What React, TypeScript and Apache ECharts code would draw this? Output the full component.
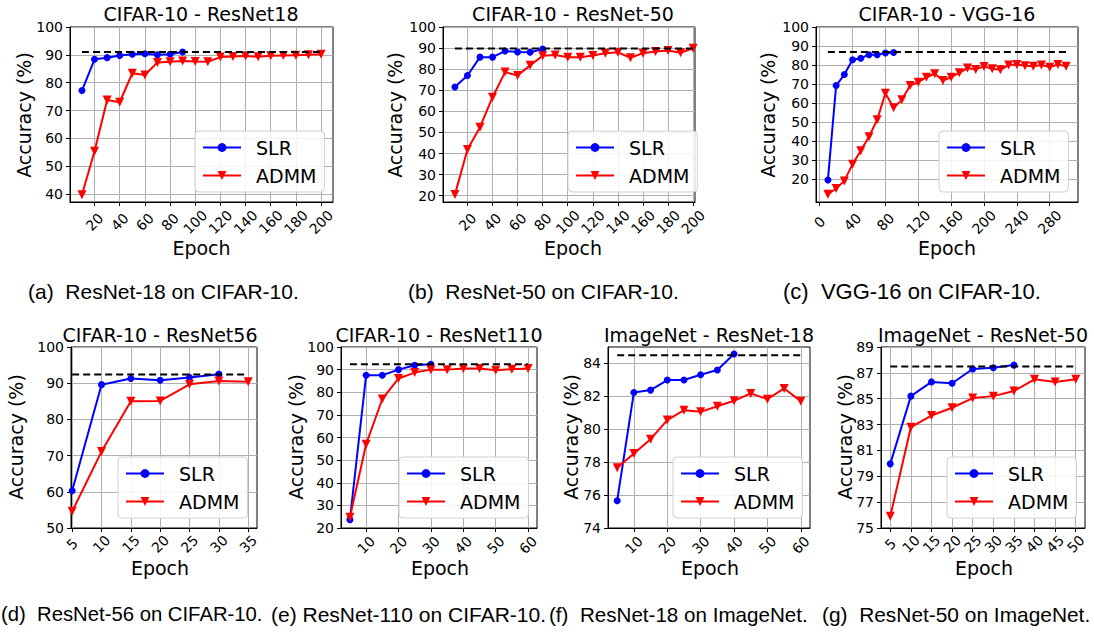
import React, { useEffect, useRef } from "react";
import * as echarts from "echarts";

// ---------------- Data ----------------
// (a) CIFAR-10 - ResNet18
const epochsA_SLR = [10, 20, 30, 40, 50, 60, 70, 80, 90];
const slrA = [77.2, 88.4, 89.0, 89.8, 90.2, 90.4, 90.0, 90.2, 91.0];
const epochsA_ADMM = [10, 20, 30, 40, 50, 60, 70, 80, 90, 100, 110, 120, 130, 140, 150, 160, 170, 180, 190, 200];
const admmA = [39.8, 55.4, 73.8, 73.0, 83.4, 82.8, 87.3, 87.5, 87.8, 87.6, 87.5, 89.2, 89.4, 89.6, 89.3, 89.7, 89.8, 89.9, 90.0, 90.2];
const baseA = 91.0;

// (b) CIFAR-10 - ResNet-50
const epochsB_SLR = [10, 20, 30, 40, 50, 60, 70, 80];
const slrB = [71.5, 77.0, 85.7, 85.7, 88.6, 88.1, 88.0, 89.5];
const epochsB_ADMM = [10, 20, 30, 40, 50, 60, 70, 80, 90, 100, 110, 120, 130, 140, 150, 160, 170, 180, 190, 200];
const admmB = [20.5, 41.9, 52.5, 66.7, 78.6, 77.0, 81.8, 86.4, 86.7, 85.7, 85.7, 86.5, 87.6, 88.0, 85.4, 87.6, 88.4, 88.9, 87.8, 89.9];
const baseB = 89.8;

// (c) CIFAR-10 - VGG-16
const epochsC_SLR = [10, 20, 30, 40, 50, 60, 70, 80, 90];
const slrC = [19.6, 69.2, 75.0, 82.8, 83.6, 85.4, 85.4, 86.3, 86.6];
const epochsC_ADMM = [10, 20, 30, 40, 50, 60, 70, 80, 90, 100, 110, 120, 130, 140, 150, 160, 170, 180, 190, 200, 210, 220, 230, 240, 250, 260, 270, 280, 290, 300];
const admmC = [12.1, 15.1, 19.1, 27.9, 34.9, 42.3, 51.3, 65.2, 57.5, 61.7, 69.2, 71.0, 73.6, 75.4, 71.9, 73.6, 75.9, 78.4, 77.7, 79.3, 78.0, 77.5, 80.0, 80.3, 79.6, 79.4, 80.0, 78.9, 80.3, 79.4];
const baseC = 86.8;

// (d) CIFAR-10 - ResNet56
const epochsD_SLR = [5, 10, 15, 20, 25, 30];
const slrD = [60.3, 89.6, 91.3, 90.8, 91.6, 92.5];
const epochsD_ADMM = [5, 10, 15, 20, 25, 30, 35];
const admmD = [54.6, 71.1, 85.0, 85.1, 89.7, 90.6, 90.4];
const baseD = 92.4;

// (e) CIFAR-10 - ResNet110
const epochsE_SLR = [5, 10, 15, 20, 25, 30];
const slrE = [23.7, 87.5, 87.5, 90.0, 91.9, 92.4];
const epochsE_ADMM = [5, 10, 15, 20, 25, 30, 35, 40, 45, 50, 55, 60];
const admmE = [24.7, 57.0, 77.0, 86.1, 88.7, 90.0, 90.0, 90.5, 90.5, 89.7, 90.2, 90.5];
const baseE = 92.4;

// (f) ImageNet - ResNet-18
const epochsF_SLR = [5, 10, 15, 20, 25, 30, 35, 40];
const slrF = [75.66, 82.24, 82.38, 82.99, 82.99, 83.31, 83.6, 84.57];
const epochsF_ADMM = [5, 10, 15, 20, 25, 30, 35, 40, 45, 50, 55, 60];
const admmF = [77.66, 78.53, 79.4, 80.56, 81.16, 81.06, 81.4, 81.73, 82.18, 81.83, 82.48, 81.71];
const baseF = 84.5;

// (g) ImageNet - ResNet-50
const epochsG_SLR = [5, 10, 15, 20, 25, 30, 35];
const slrG = [79.96, 85.2, 86.3, 86.2, 87.3, 87.4, 87.6];
const epochsG_ADMM = [5, 10, 15, 20, 25, 30, 35, 40, 45, 50];
const admmG = [75.9, 82.8, 83.7, 84.3, 85.05, 85.2, 85.6, 86.5, 86.3, 86.5];
const baseG = 87.5;

// Tick labels
const xTicksAB = [20, 40, 60, 80, 100, 120, 140, 160, 180, 200];
const xTicksC = [0, 40, 80, 120, 160, 200, 240, 280];
const xTicksD = [5, 10, 15, 20, 25, 30, 35];
const xTicksEF = [10, 20, 30, 40, 50, 60];
const xTicksG = [5, 10, 15, 20, 25, 30, 35, 40, 45, 50];
const yTicksA = [40, 50, 60, 70, 80, 90, 100];
const yTicks20 = [20, 30, 40, 50, 60, 70, 80, 90, 100];
const yTicksD = [50, 60, 70, 80, 90, 100];
const yTicksF = [74, 76, 78, 80, 82, 84];
const yTicksG = [75, 77, 79, 81, 83, 85, 87, 89];

const titles = [
  "CIFAR-10 - ResNet18",
  "CIFAR-10 - ResNet-50",
  "CIFAR-10 - VGG-16",
  "CIFAR-10 - ResNet56",
  "CIFAR-10 - ResNet110",
  "ImageNet - ResNet-18",
  "ImageNet - ResNet-50",
];
const captions = [
  "(a)  ResNet-18 on CIFAR-10.",
  "(b)  ResNet-50 on CIFAR-10.",
  "(c)  VGG-16 on CIFAR-10.",
  "(d)  ResNet-56 on CIFAR-10.",
  "(e) ResNet-110 on CIFAR-10.",
  "(f)  ResNet-18 on ImageNet.",
  "(g)  ResNet-50 on ImageNet.",
];

const FONT = "'DejaVu Sans', sans-serif";
const CAP_FONT = "'Liberation Sans', Arial, sans-serif";

const zip = (xs: number[], ys: number[]) => xs.map((x, i) => [x, ys[i]]);
const fmt = (v: number) => String(Math.round(v));

type Panel = {
  slrX: number[]; slr: number[]; admmX: number[]; admm: number[]; base: number;
  baseFrom: number; baseTo: number;
  grid: { left: number; top: number; width: number; height: number };
  xMin: number; xMax: number; xTicks: number[];
  yMin: number; yMax: number; yTicks: number[];
  xMargin: number;
  legend: [number, number];
  titleX: number; titleY: number;
  epochX: number; epochY: number;
  yNameX: number; yNameY: number;
  capX: number; capY: number; capSize: number;
};

const panels: Panel[] = [
  {
    slrX: epochsA_SLR, slr: slrA, admmX: epochsA_ADMM, admm: admmA, base: baseA, baseFrom: 10, baseTo: 200,
    grid: { left: 70, top: 27, width: 263, height: 175 },
    xMin: 0.5, xMax: 209.5, xTicks: xTicksAB, yMin: 37.2, yMax: 100, yTicks: yTicksA, xMargin: 20,
    legend: [195, 131], titleX: 201, titleY: 14, epochX: 201.5, epochY: 248, yNameX: 24, yNameY: 115,
    capX: 28, capY: 291, capSize: 21,
  },
  {
    slrX: epochsB_SLR, slr: slrB, admmX: epochsB_ADMM, admm: admmB, base: baseB, baseFrom: 10, baseTo: 200,
    grid: { left: 443, top: 27, width: 252, height: 175 },
    xMin: 0.5, xMax: 201.5, xTicks: xTicksAB, yMin: 17, yMax: 100, yTicks: yTicks20, xMargin: 20,
    legend: [568, 131], titleX: 573, titleY: 14, epochX: 573, epochY: 248, yNameX: 395, yNameY: 115,
    capX: 408, capY: 291, capSize: 21,
  },
  {
    slrX: epochsC_SLR, slr: slrC, admmX: epochsC_ADMM, admm: admmC, base: baseC, baseFrom: 10, baseTo: 300,
    grid: { left: 816, top: 27, width: 262, height: 175 },
    xMin: -4.5, xMax: 314.5, xTicks: xTicksC, yMin: 8, yMax: 100, yTicks: yTicks20, xMargin: 20,
    legend: [939, 131], titleX: 947, titleY: 14, epochX: 947, epochY: 248, yNameX: 768, yNameY: 115,
    capX: 783, capY: 291, capSize: 22,
  },
  {
    slrX: epochsD_SLR, slr: slrD, admmX: epochsD_ADMM, admm: admmD, base: baseD, baseFrom: 5, baseTo: 35,
    grid: { left: 71, top: 347, width: 186, height: 181 },
    xMin: 4.8, xMax: 36.5, xTicks: xTicksD, yMin: 50, yMax: 100, yTicks: yTicksD, xMargin: 16,
    legend: [118, 457], titleX: 160, titleY: 335, epochX: 160, epochY: 568, yNameX: 16, yNameY: 437,
    capX: 1, capY: 614, capSize: 20.3,
  },
  {
    slrX: epochsE_SLR, slr: slrE, admmX: epochsE_ADMM, admm: admmE, base: baseE, baseFrom: 5, baseTo: 60,
    grid: { left: 341, top: 347, width: 196, height: 181 },
    xMin: 2.25, xMax: 62.75, xTicks: xTicksEF, yMin: 20, yMax: 100, yTicks: yTicks20, xMargin: 17,
    legend: [399, 457], titleX: 439, titleY: 335, epochX: 440, epochY: 568, yNameX: 296, yNameY: 437,
    capX: 271, capY: 614, capSize: 21,
  },
  {
    slrX: epochsF_SLR, slr: slrF, admmX: epochsF_ADMM, admm: admmF, base: baseF, baseFrom: 5, baseTo: 60,
    grid: { left: 608, top: 347, width: 202, height: 181 },
    xMin: 2.25, xMax: 62.75, xTicks: xTicksEF, yMin: 74, yMax: 85, yTicks: yTicksF, xMargin: 17,
    legend: [673, 457], titleX: 709, titleY: 335, epochX: 710, epochY: 568, yNameX: 571, yNameY: 437,
    capX: 549, capY: 614, capSize: 20.6,
  },
  {
    slrX: epochsG_SLR, slr: slrG, admmX: epochsG_ADMM, admm: admmG, base: baseG, baseFrom: 5, baseTo: 50,
    grid: { left: 881, top: 347, width: 204, height: 181 },
    xMin: 2.75, xMax: 52.25, xTicks: xTicksG, yMin: 75, yMax: 89, yTicks: yTicksG, xMargin: 16,
    legend: [947, 457], titleX: 983, titleY: 335, epochX: 984, epochY: 568, yNameX: 845, yNameY: 437,
    capX: 822, capY: 614, capSize: 20.9,
  },
];

function centeredText(text: string, x: number, y: number, font: string, rotation = 0) {
  return {
    type: "text", x, y, rotation, silent: true, z: 100,
    style: { text, font, fill: "#000", textAlign: "center", textVerticalAlign: "middle", align: "center", verticalAlign: "middle" },
  };
}

// Linear position of a value on a panel's x axis (same min/max the axis uses)
function xPixel(p: Panel, v: number) {
  return p.grid.left + ((v - p.xMin) / (p.xMax - p.xMin)) * p.grid.width;
}

function buildGraphic() {
  const graphic: any[] = [];
  panels.forEach((p, i) => {
    graphic.push(centeredText(titles[i], p.titleX, p.titleY, `19px ${FONT}`));
    graphic.push(centeredText("Epoch", p.epochX, p.epochY, `19px ${FONT}`));
    graphic.push(centeredText("Accuracy (%)", p.yNameX, p.yNameY, `19px ${FONT}`, Math.PI / 2));
    graphic.push({
      type: "text", x: p.capX, y: p.capY, silent: true,
      style: { text: captions[i], font: `${p.capSize}px ${CAP_FONT}`, fill: "#000", textAlign: "left", textVerticalAlign: "middle", align: "left", verticalAlign: "middle" },
    });
    // the axis drops a custom label sitting exactly on 0; add it at the axis' own position for 0
    p.xTicks.filter((v) => v === 0).forEach((v) => {
      graphic.push(centeredText(fmt(v), xPixel(p, v), p.grid.top + p.grid.height + p.xMargin, `14px ${FONT}`, Math.PI / 4));
    });
  });
  return graphic;
}

function buildOption() {
  const grid: any[] = [];
  const xAxis: any[] = [];
  const yAxis: any[] = [];
  const series: any[] = [];
  const legend: any[] = [];

  panels.forEach((p, i) => {
    grid.push({ ...p.grid, show: true, borderColor: "#000", borderWidth: 1, backgroundColor: "#fff", containLabel: false });
    xAxis.push({
      type: "value", gridIndex: i, min: p.xMin, max: p.xMax,
      axisLine: { show: true, onZero: false, lineStyle: { color: "#000", width: 1 } },
      axisTick: { show: true, inside: false, length: 4, customValues: p.xTicks, lineStyle: { color: "#000", width: 1 } },
      axisLabel: {
        show: true, customValues: p.xTicks.filter((v) => v !== 0), rotate: 45, align: "center", verticalAlign: "middle",
        showMinLabel: true, showMaxLabel: true, formatter: fmt,
        margin: p.xMargin, fontSize: 14, fontFamily: FONT, color: "#000",
      },
      splitLine: { show: true, lineStyle: { color: "#b0b0b0", width: 1 } },
    });
    yAxis.push({
      type: "value", gridIndex: i, min: p.yMin, max: p.yMax,
      axisLine: { show: true, onZero: false, lineStyle: { color: "#000", width: 1 } },
      axisTick: { show: true, inside: false, length: 4, customValues: p.yTicks, lineStyle: { color: "#000", width: 1 } },
      axisLabel: {
        show: true, customValues: p.yTicks, margin: 7, fontSize: 14, fontFamily: FONT, color: "#000",
        showMinLabel: true, showMaxLabel: true, formatter: fmt,
      },
      splitLine: { show: true, lineStyle: { color: "#b0b0b0", width: 1 } },
    });
    series.push({
      name: "SLR", type: "line", xAxisIndex: i, yAxisIndex: i,
      data: zip(p.slrX, p.slr), symbol: "circle", symbolSize: 7, showSymbol: true,
      lineStyle: { color: "#0000ff", width: 2 }, itemStyle: { color: "#0000ff" }, z: 3,
    });
    series.push({
      name: "ADMM", type: "line", xAxisIndex: i, yAxisIndex: i,
      data: zip(p.admmX, p.admm), symbol: "triangle", symbolRotate: 180, symbolSize: 9, showSymbol: true,
      lineStyle: { color: "#ff0000", width: 2 }, itemStyle: { color: "#ff0000" }, z: 3,
    });
    series.push({
      name: "baseline" + i, type: "line", xAxisIndex: i, yAxisIndex: i,
      data: [[p.baseFrom, p.base], [p.baseTo, p.base]], symbol: "none",
      lineStyle: { color: "#000", width: 2, type: [7, 4] }, z: 4,
    });
    legend.push({
      data: ["SLR", "ADMM"], orient: "vertical", left: p.legend[0], top: p.legend[1],
      itemWidth: 38, itemHeight: 11, itemGap: 9, padding: [7, 8, 7, 7],
      backgroundColor: "rgba(255,255,255,0.85)", borderColor: "#d0d0d0", borderWidth: 1, borderRadius: 4,
      selectedMode: false, z: 10,
      textStyle: { fontSize: 19, lineHeight: 19, fontFamily: FONT, color: "#000", padding: [0, 0, 0, 10] },
    });
  });

  return {
    animation: false,
    backgroundColor: "#fff",
    grid, xAxis, yAxis, series, legend, graphic: buildGraphic(),
  };
}

export default function App() {
  const ref = useRef<HTMLDivElement>(null);
  useEffect(() => {
    if (!ref.current) return;
    const chart = echarts.init(ref.current, undefined, { renderer: "svg" });
    chart.setOption(buildOption() as any);
    return () => chart.dispose();
  }, []);
  return <div ref={ref} style={{ position: "absolute", left: 0, top: 0, width: 1094, height: 634 }} />;
}
